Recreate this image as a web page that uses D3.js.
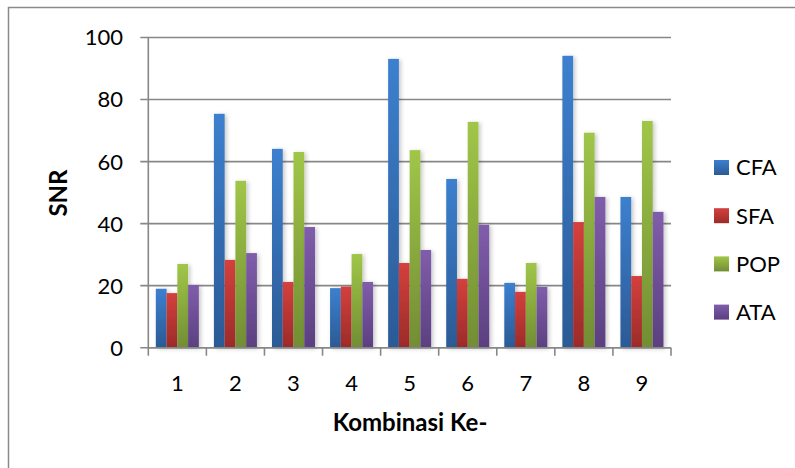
<!DOCTYPE html>
<html>
<head>
<meta charset="utf-8">
<script src="https://cdn.jsdelivr.net/npm/d3@7"></script>
<style>
  html, body { margin: 0; padding: 0; background: #fff; }
  svg { display: block; font-family: Lato, "Open Sans", sans-serif; }
</style>
</head>
<body>
<svg id="chart" width="795" height="468"></svg>
<script>
// Combinations on the x axis
const categories = ["1", "2", "3", "4", "5", "6", "7", "8", "9"];
// Series names, in legend order
const seriesNames = ["CFA", "SFA", "POP", "ATA"];
// SNR per combination for each method
const cfa = [19.0, 75.4, 64.1, 19.2, 93.1, 54.4, 20.9, 94.1, 48.6];
const sfa = [17.6, 28.3, 21.2, 19.7, 27.3, 22.2, 18.0, 40.5, 23.1];
const pop = [27.0, 53.8, 63.1, 30.2, 63.7, 72.8, 27.3, 69.3, 73.1];
const ata = [20.2, 30.5, 38.9, 21.2, 31.5, 39.6, 19.6, 48.6, 43.8];
// Value axis ticks
const yTicks = [0, 20, 40, 60, 80, 100];

const seriesValues = [cfa, sfa, pop, ata];
const palette = {
  CFA: ["#3c80cf", "#2b5a95"],
  SFA: ["#d4403d", "#9c2b29"],
  POP: ["#a0c648", "#728d34"],
  ATA: ["#805dab", "#5b4080"]
};

const svg = d3.select("#chart");
const defs = svg.append("defs");

seriesNames.forEach(name => {
  const g = defs.append("linearGradient")
    .attr("id", "grad-" + name)
    .attr("x1", 0).attr("y1", 0).attr("x2", 0).attr("y2", 1);
  g.append("stop").attr("offset", "0%").attr("stop-color", palette[name][0]);
  g.append("stop").attr("offset", "100%").attr("stop-color", palette[name][1]);
});

const shadow = defs.append("filter").attr("id", "barShadow")
  .attr("x", "-30%").attr("y", "-10%").attr("width", "180%").attr("height", "130%");
shadow.append("feDropShadow")
  .attr("dx", 2).attr("dy", 1).attr("stdDeviation", 2)
  .attr("flood-color", "#000").attr("flood-opacity", 0.22);

// Outer chart frame
svg.append("rect")
  .attr("x", 8.5).attr("y", 7.5).attr("width", 800).attr("height", 480)
  .attr("fill", "none").attr("stroke", "#8a8a8a").attr("stroke-width", 1.5);

const plot = { left: 148.3, right: 671, top: 37.5, bottom: 347.7 };

const x = d3.scaleBand().domain(categories).range([plot.left, plot.right]).padding(0);
const xInner = d3.scaleBand().domain(seriesNames)
  .range([0, x.bandwidth()]).paddingInner(0).paddingOuter(0.7);
const y = d3.scaleLinear().domain([0, 100]).range([plot.bottom, plot.top]);

const gridColor = "#878787";

// Horizontal gridlines with outward tick marks
svg.append("g").selectAll("line").data(yTicks).join("line")
  .attr("x1", plot.left - 8).attr("x2", plot.right)
  .attr("y1", d => y(d)).attr("y2", d => y(d))
  .attr("stroke", gridColor).attr("stroke-width", 1.6);

// Value axis labels
svg.append("g").selectAll("text").data(yTicks).join("text")
  .attr("x", 123).attr("y", d => y(d))
  .attr("dy", "0.36em").attr("text-anchor", "end")
  .attr("font-size", 22).attr("fill", "#000")
  .text(d => d);

// Bars
const groups = svg.append("g").selectAll("g").data(categories).join("g")
  .attr("transform", d => `translate(${x(d)},0)`);

groups.selectAll("rect")
  .data((c, i) => seriesNames.map((s, k) => ({ s, v: seriesValues[k][i] })))
  .join("rect")
  .attr("x", d => xInner(d.s))
  .attr("width", xInner.bandwidth())
  .attr("y", d => y(d.v))
  .attr("height", d => y(0) - y(d.v))
  .attr("fill", d => `url(#grad-${d.s})`)
  .attr("filter", "url(#barShadow)");

// Value axis line
svg.append("line")
  .attr("x1", plot.left).attr("x2", plot.left)
  .attr("y1", plot.top).attr("y2", plot.bottom)
  .attr("stroke", gridColor).attr("stroke-width", 1.6);

// Category axis line and boundary ticks
svg.append("line")
  .attr("x1", plot.left).attr("x2", plot.right)
  .attr("y1", plot.bottom).attr("y2", plot.bottom)
  .attr("stroke", gridColor).attr("stroke-width", 1.6);

const boundaries = categories.map(c => x(c)).concat([plot.right]);
svg.append("g").selectAll("line").data(boundaries).join("line")
  .attr("x1", d => d).attr("x2", d => d)
  .attr("y1", plot.bottom).attr("y2", plot.bottom + 8)
  .attr("stroke", gridColor).attr("stroke-width", 1.6);

// Category labels
svg.append("g").selectAll("text").data(categories).join("text")
  .attr("x", d => x(d) + x.bandwidth() / 2)
  .attr("y", 391)
  .attr("text-anchor", "middle")
  .attr("font-size", 22).attr("fill", "#000")
  .text(d => d);

// Axis titles
svg.append("text")
  .attr("x", 410).attr("y", 431)
  .attr("text-anchor", "middle")
  .attr("font-size", 24).attr("font-weight", "bold")
  .text("Kombinasi Ke-");

svg.append("text")
  .attr("transform", "translate(67,193) rotate(-90)")
  .attr("text-anchor", "middle")
  .attr("font-size", 24).attr("font-weight", "bold")
  .text("SNR");

// Legend
const legend = svg.append("g").selectAll("g").data(seriesNames).join("g")
  .attr("transform", (d, i) => `translate(714,${167.5 + i * 48.2})`);
legend.append("rect")
  .attr("x", 0).attr("y", -7.5).attr("width", 15).attr("height", 15)
  .attr("fill", d => `url(#grad-${d})`);
legend.append("text")
  .attr("x", 22).attr("y", 0).attr("dy", "0.36em")
  .attr("font-size", 22).attr("fill", "#000")
  .text(d => d);
</script>
</body>
</html>
